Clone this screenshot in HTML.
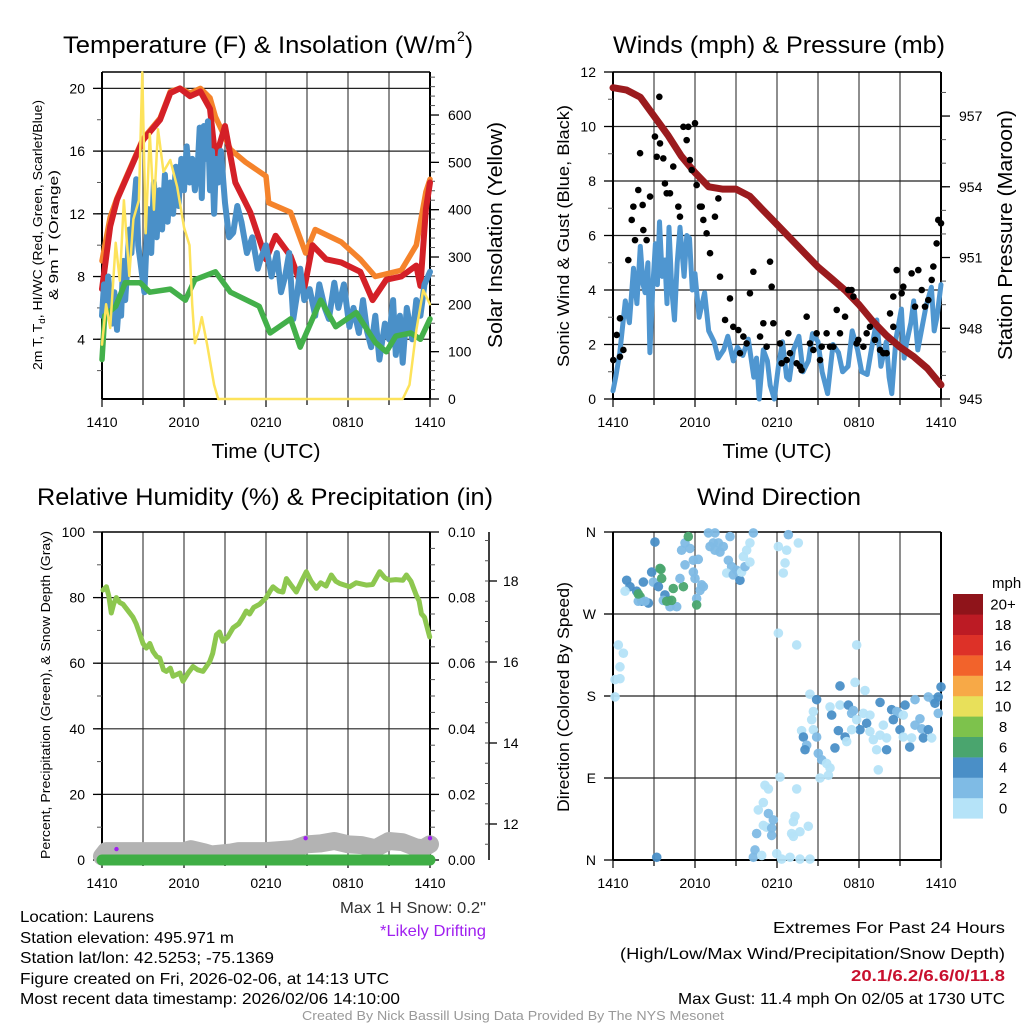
<!DOCTYPE html>
<html><head><meta charset="utf-8"><title>Mesonet Station Meteogram</title>
<style>
html,body{margin:0;padding:0;background:#fff;}
svg{display:block;font-family:"Liberation Sans",Arial,sans-serif;}
</style></head>
<body>
<svg id="fig" width="1024" height="1024" viewBox="0 0 1024 1024" xmlns="http://www.w3.org/2000/svg">
<rect x="0" y="0" width="1024" height="1024" fill="#fff"/>
<text x="63" y="53" font-size="24" textLength="393" lengthAdjust="spacingAndGlyphs">Temperature (F) &amp; Insolation (W/m</text>
<text x="457" y="41" font-size="14">2</text>
<text x="465" y="53" font-size="24">)</text>
<text x="613" y="53" font-size="24" textLength="332" lengthAdjust="spacingAndGlyphs">Winds (mph) &amp; Pressure (mb)</text>
<text x="37" y="505" font-size="24" textLength="456" lengthAdjust="spacingAndGlyphs">Relative Humidity (%) &amp; Precipitation (in)</text>
<text x="697" y="505" font-size="24" textLength="164" lengthAdjust="spacingAndGlyphs">Wind Direction</text>
<text x="266" y="458" font-size="20" text-anchor="middle" textLength="109" lengthAdjust="spacingAndGlyphs">Time (UTC)</text>
<text x="777" y="458" font-size="20" text-anchor="middle" textLength="109" lengthAdjust="spacingAndGlyphs">Time (UTC)</text>
<text x="42" y="235" font-size="13" text-anchor="middle" transform="rotate(-90 42 235)" textLength="270" lengthAdjust="spacingAndGlyphs">2m T, T<tspan font-size="9" dy="3">d</tspan><tspan dy="-3">, HI/WC (Red, Green, Scarlet/Blue)</tspan></text>
<text x="58" y="235" font-size="13" text-anchor="middle" transform="rotate(-90 58 235)" textLength="130" lengthAdjust="spacingAndGlyphs">&amp; 9m T (Orange)</text>
<text x="502" y="235" font-size="20" text-anchor="middle" transform="rotate(-90 502 235)" textLength="226" lengthAdjust="spacingAndGlyphs">Solar Insolation (Yellow)</text>
<text x="569" y="236" font-size="17" text-anchor="middle" transform="rotate(-90 569 236)" textLength="262" lengthAdjust="spacingAndGlyphs">Sonic Wind &amp; Gust (Blue, Black)</text>
<text x="1012" y="235" font-size="20" text-anchor="middle" transform="rotate(-90 1012 235)" textLength="250" lengthAdjust="spacingAndGlyphs">Station Pressure (Maroon)</text>
<text x="50" y="695" font-size="13" text-anchor="middle" transform="rotate(-90 50 695)" textLength="328" lengthAdjust="spacingAndGlyphs">Percent, Precipitation (Green), &amp; Snow Depth (Gray)</text>
<text x="569" y="697" font-size="17" text-anchor="middle" transform="rotate(-90 569 697)" textLength="230" lengthAdjust="spacingAndGlyphs">Direction (Colored By Speed)</text>
<g font-size="16">
<text x="20" y="922" textLength="134" lengthAdjust="spacingAndGlyphs">Location: Laurens</text>
<text x="20" y="943" textLength="214" lengthAdjust="spacingAndGlyphs">Station elevation: 495.971 m</text>
<text x="20" y="963" textLength="254" lengthAdjust="spacingAndGlyphs">Station lat/lon: 42.5253; -75.1369</text>
<text x="20" y="984" textLength="369" lengthAdjust="spacingAndGlyphs">Figure created on Fri, 2026-02-06, at 14:13 UTC</text>
<text x="20" y="1004" textLength="380" lengthAdjust="spacingAndGlyphs">Most recent data timestamp: 2026/02/06 14:10:00</text>
</g>
<text x="486" y="913" font-size="16" fill="#333" text-anchor="end" textLength="146" lengthAdjust="spacingAndGlyphs">Max 1 H Snow: 0.2"</text>
<text x="486" y="936" font-size="16" fill="#a020f0" text-anchor="end" textLength="106" lengthAdjust="spacingAndGlyphs">*Likely Drifting</text>
<text x="1005" y="933" font-size="16" text-anchor="end" textLength="232" lengthAdjust="spacingAndGlyphs">Extremes For Past 24 Hours</text>
<text x="1005" y="959" font-size="16" text-anchor="end" textLength="385" lengthAdjust="spacingAndGlyphs">(High/Low/Max Wind/Precipitation/Snow Depth)</text>
<text x="1005" y="981" font-size="16" font-weight="bold" fill="#c8102e" text-anchor="end" textLength="154" lengthAdjust="spacingAndGlyphs">20.1/6.2/6.6/0/11.8</text>
<text x="1005" y="1004" font-size="16" text-anchor="end" textLength="327" lengthAdjust="spacingAndGlyphs">Max Gust: 11.4 mph On 02/05 at 1730 UTC</text>
<text x="513" y="1020" font-size="13" fill="#999" text-anchor="middle" textLength="422" lengthAdjust="spacingAndGlyphs">Created By Nick Bassill Using Data Provided By The NYS Mesonet</text>
<text x="992" y="588" font-size="15">mph</text>
</svg>
<script>
// ---------- DATA ----------
const timeLabels = ["1410","2010","0210","0810","1410"];
const tempHours = [0,0.6,1.1,2.05,3.0,4.25,5,5.7,6.45,7.2,7.9,8.3,9.0,9.75,10.85,12,12.7,13.8,14.75,15.4,16.4,17.5,18.9,19.8,20.8,21.9,23,23.3,23.7,24];
const tempRed = [7.2,11.2,12.9,14.8,16.7,18.0,19.7,20.0,19.5,19.8,18.7,15.5,17.6,14.0,12.1,9.1,10.6,9.3,7.0,10.0,9.1,8.9,8.3,6.5,7.8,8.0,8.7,7.4,12.3,14.0];
const orangeHours = [0,0.6,1.1,2.05,3.0,4.25,5,5.7,6.45,7.2,7.9,8.3,9.4,10.5,12,12.2,13.8,14.9,15.6,17.5,18.9,20,21.9,23,23.7,24];
const temp9m = [9.0,11.8,13.0,14.9,16.8,18.1,19.8,20.0,19.7,20.0,19.4,18.2,16.1,15.3,14.4,12.7,12.1,9.5,11.0,10.2,9.1,8.0,8.4,10.0,13.4,14.2];
const wcHours = [0,0.15,0.3,0.45,0.6,0.75,0.9,1.1,1.25,1.4,1.55,1.7,1.85,2.0,2.15,2.3,2.5,2.65,2.8,2.95,3.1,3.25,3.4,3.6,3.8,4.0,4.2,4.4,4.6,4.8,5.0,5.2,5.4,5.6,5.8,6.0,6.2,6.4,6.6,6.8,7.0,7.15,7.3,7.45,7.6,7.75,7.9,8.05,8.2,8.35,8.5,8.7,9.0,9.3,9.6,9.9,10.2,10.6,11.0,11.4,11.6,12.0,12.4,12.8,13.1,13.4,13.7,14.0,14.3,14.5,14.8,15.2,15.6,15.9,16.3,16.6,17.0,17.3,17.7,18.1,18.4,18.8,19.1,19.4,19.7,20.0,20.3,20.7,21.0,21.3,21.5,21.8,22.0,22.3,22.7,23.0,23.3,23.6,24];
const windChill = [5.5,7.5,6.0,8.0,6.5,5.0,7.0,4.6,6.5,5.5,9.0,6.5,8.6,11.0,9.5,12.0,14.2,10.0,9.0,8.0,7.0,10.0,12.3,9.5,14.0,10.5,13.5,11.0,14.5,11.5,14.0,12.0,15.0,12.5,15.5,13.5,16.3,14.0,15.5,13.5,15.0,17.5,13.0,17.6,15.5,17.9,13.5,16.0,12.0,15.5,14.0,16.0,12.7,10.5,10.8,12.5,11.5,9.5,10.5,8.5,9.1,10.0,8.0,9.5,7.0,8.0,9.5,5.3,7.0,8.5,6.5,7.2,5.5,7.5,6.0,5.3,7.6,6.0,7.5,4.8,6.0,4.4,6.5,4.5,3.5,5.5,2.7,5.0,4.0,6.5,3.0,5.5,2.5,6.0,4.0,6.5,5.5,7.5,8.3];
const dewHours = [0,0.2,1.0,1.7,2.8,3.5,5.0,6.1,6.8,8.3,9.4,11.5,12.3,13.8,14.5,16.0,17.1,18.6,20.0,20.8,21.5,22.6,23.3,24];
const dewPoint = [2.7,5.5,6.1,7.6,7.6,7.0,7.2,6.5,7.8,8.3,7.0,6.1,4.4,5.3,3.5,6.5,4.8,5.7,3.8,3.2,4.2,4.4,4.0,5.3];
const solarHours = [0,0.3,0.6,1,1.3,1.6,2,2.3,2.7,2.95,3.2,3.5,3.8,4.1,4.5,5,5.5,6,6.4,6.6,6.8,7.1,7.3,7.7,8.2,8.5,22,22.5,23,23.5,24];
const solar = [115,200,150,330,250,420,260,380,420,690,350,560,400,570,480,505,448,363,325,200,118,145,173,114,30,0,0,30,145,230,200];
const tempTicks = [4,8,12,16,20];
const solarTicks = [0,100,200,300,400,500,600];
const windHours = [0,0.2,0.5,0.9,1.2,1.5,1.75,2.0,2.2,2.35,2.55,2.7,2.9,3.1,3.25,3.4,3.6,3.8,3.95,4.1,4.3,4.5,4.7,4.9,5.2,5.4,5.6,5.8,6.0,6.3,6.7,7.0,7.4,7.7,8.1,8.4,8.8,9.1,9.5,9.9,10.3,10.5,10.7,11.0,11.3,11.5,11.8,12.1,12.4,12.7,12.9,13.2,13.6,13.9,14.3,14.6,15.0,15.3,15.7,16.1,16.5,16.8,17.2,17.5,17.9,18.2,18.6,18.9,19.3,19.6,20.0,20.2,20.4,20.7,21.1,21.3,21.5,21.8,22.0,22.3,22.6,22.9,23.3,23.5,23.7,24];
const windSpeed = [0.3,0.8,1.7,3.6,2.8,4.8,3.5,5.6,4.2,3.9,5.0,1.7,4.0,5.7,4.2,6.5,4.5,5.1,3.5,6.3,4.0,2.9,5.0,6.3,4.5,6.0,5.9,4.0,4.6,3.0,3.9,2.5,2.1,1.5,1.8,2.3,1.4,1.9,1.6,2.2,0.8,1.5,0.0,1.8,1.4,0.5,0.0,1.2,2.1,0.8,0.7,1.8,2.3,1.0,1.4,2.4,2.1,1.0,0.2,2.0,1.7,1.0,1.2,2.5,1.8,1.0,0.9,1.8,2.9,1.2,2.1,0.8,0.2,2.2,3.3,1.5,2.1,2.8,3.6,1.8,2.6,3.4,4.1,2.5,3.0,4.2];
const presHours = [0,1,2,3,4,5,6,7,8,9,10,11,12,13,14,15,16,17,18,19,20,21,22,23,24];
const pressure = [958.2,958.1,957.8,957.0,956.2,955.3,954.6,954.0,953.9,953.9,953.6,953.0,952.4,951.8,951.2,950.6,950.1,949.6,949.0,948.3,947.7,947.2,946.8,946.3,945.6];
const gustHours = [0.02,0.27,0.51,1.12,1.37,1.49,1.85,1.98,2.17,2.46,2.71,3.07,3.2,3.39,3.44,3.68,3.8,3.93,4.17,4.41,4.78,4.9,5.15,5.39,5.51,5.63,5.76,6.0,6.12,6.37,6.49,6.61,6.85,7.1,7.46,7.71,7.83,8.2,8.56,8.8,9.17,9.54,10.02,10.27,10.76,11.0,11.49,11.61,11.73,12.22,12.34,12.83,12.95,13.44,13.8,14.17,14.66,14.9,15.27,15.63,16.12,16.37,16.61,16.98,17.22,17.46,17.59,17.95,18.32,18.56,18.8,19.17,19.54,19.78,20.27,20.51,20.76,21.12,21.24,21.85,22.1,22.34,22.59,22.83,23.07,23.32,23.44,23.68,23.8,24.0,9.29,9.78,11.24,12.71,13.68,14.41,15.15,15.88,17.83,20.02,20.51,1.61,2.22,0.51,0.76];
const gustSpeed = [1.43,2.35,2.96,5.10,6.57,7.06,7.67,9.02,7.12,5.83,7.43,9.63,8.89,11.09,9.38,8.83,7.91,7.55,7.55,8.53,7.06,6.69,9.99,9.5,9.99,8.77,8.4,10.12,7.85,7.06,7.06,6.57,6.08,5.35,6.69,7.36,4.49,2.9,3.69,2.65,2.53,2.29,3.88,4.67,2.29,2.78,5.04,4.12,2.78,2.04,1.31,2.41,1.68,1.31,1.06,3.02,1.8,2.41,1.92,2.41,1.92,3.27,2.41,3.02,4.0,4.0,3.76,2.17,1.92,2.41,2.65,2.17,1.8,1.68,3.14,3.76,4.73,3.88,4.12,4.61,3.39,4.73,4.0,3.39,3.63,4.37,4.86,5.71,6.57,6.45,1.68,2.04,1.92,1.43,1.19,2.04,1.43,1.92,2.04,1.68,2.65,5.83,6.2,1.55,1.8];
const windTicks = [0,2,4,6,8,10,12];
const presTicks = [945,948,951,954,957];
const rhHours = [0.07,0.32,0.5,0.68,0.85,1.05,1.3,1.54,1.9,2.27,2.5,2.76,3.0,3.24,3.5,3.73,4.0,4.22,4.5,4.71,5.0,5.2,5.44,5.7,5.93,6.3,6.66,7.0,7.39,7.88,8.1,8.37,8.6,8.85,9.2,9.59,10.0,10.3,10.56,10.8,11.1,11.54,12.02,12.3,12.51,12.9,13.24,13.49,13.8,14.22,14.6,14.95,15.3,15.68,16.0,16.4,16.78,17.1,17.39,18.12,18.6,19.34,19.8,20.32,20.7,21.05,21.5,22.02,22.27,22.6,23.0,23.2,23.37,23.6,23.98];
const rh = [82.3,83.3,80.5,75.3,78,80,78.5,78,76,74,72,69,66,64.6,66,63.6,62,61.6,58,57.5,58.5,56,56.5,57,54.5,57,59,58,57.5,60.5,63,68.7,69.5,66.7,68,70.8,72,74,75.9,75,77,78,80,82,83.3,82,81.7,85.8,84,81.7,85,87.9,85,82.8,84.5,83.5,86.9,85,84.3,83.3,84.5,83.8,84,87.9,86,85.3,85.5,85.3,86.9,85,80.7,79,75.1,74,68];
const precipHours = [0,24];
const precip = [0,0];
const snowHours = [0,0.3,3,6,6.5,7.5,8,9.5,10,12,14,15,16,17,18,19,20,21,22,23,23.5,24];
const snowDepth = [11.2,11.33,11.33,11.33,11.38,11.3,11.25,11.3,11.33,11.33,11.38,11.5,11.52,11.58,11.5,11.48,11.4,11.58,11.55,11.42,11.4,11.5];
const driftHours = [1.06,14.9,24];
const driftDepth = [11.38,11.65,11.65];
const rhTicks = [0,20,40,60,80,100];
const precipTicks = ["0.00","0.02","0.04","0.06","0.08","0.10"];
const snowTicks = [12,14,16,18];
const dirHours = [3.07,1.0,1.24,1.73,2.1,2.59,0.88,2.22,2.83,2.95,3.44,3.56,3.32,3.8,4.05,3.68,4.17,4.66,4.41,5.15,4.9,5.02,5.27,5.51,5.63,5.27,5.88,6.24,5.88,6.0,6.49,6.61,6.37,6.12,6.12,1.98,1.85,2.34,1.85,3.51,3.93,4.29,6.98,7.1,7.34,7.71,7.46,7.83,8.07,7.46,8.56,8.44,8.68,8.32,8.8,9.05,9.29,9.41,9.66,9.54,9.78,10.02,10.27,10.02,12.1,12.71,12.83,13.56,12.59,12.46,12.1,13.44,17.83,0.39,0.76,0.51,0.15,0.51,0.15,16.61,17.71,18.44,14.41,14.9,14.66,14.54,13.8,14.66,13.93,14.17,14.05,14.9,15.02,15.27,15.63,15.88,15.76,15.15,15.88,16.0,16.24,16.49,16.98,17.1,16.61,17.22,17.46,17.59,17.83,18.07,17.46,18.32,18.8,18.56,18.8,19.05,19.54,19.78,20.02,19.29,20.02,19.41,19.54,20.39,20.76,20.88,20.51,21.0,21.24,21.71,21.85,21.37,21.24,22.1,22.1,22.46,22.59,23.07,22.71,23.32,23.07,23.44,23.56,23.8,24.0,23.8,12.22,11.12,11.37,13.44,11.0,10.63,11.37,11.73,11.0,11.24,11.61,10.51,11.61,13.2,13.07,13.32,13.68,14.29,13.2,10.39,10.27,10.88,11.98,12.34,12.95,13.68,14.41,3.2];
const dirDegrees = [349,307,300,295,284,282,295,305,316,305,320,309,300,291,285,285,278,278,298,300,309,340,348,355,342,324,329,330,316,309,302,300,296,287,280,289,284,284,292,319,284,285,359,344,348,348,340,338,344,359,355,329,322,315,313,318,307,316,322,333,340,348,359,327,344,340,357,348,326,315,249,236,236,236,227,212,198,199,179,191,195,186,182,176,163,154,142,143,135,126,121,135,117,110,106,101,93,90,168,159,123,142,135,130,170,170,161,164,154,143,143,161,159,150,141,132,137,148,134,121,121,99,173,165,163,161,154,143,135,124,134,170,159,176,148,155,144,143,134,134,179,176,172,179,190,161,91,82,78,78,63,55,51,44,38,36,35,29,27,42,29,48,31,37,26,11,3,5,7,1,3,1,1,3];
const dirSpeed = [5,5,5,5,5,5,1,5,5,3,6,6,5,5,5,3,3,3,7,7,3,3,3,7,3,3,3,3,3,3,3,3,3,3,7,7,3,3,7,7,7,7,3,3,3,3,3,3,3,3,3,3,3,1,3,3,5,1,3,1,1,1,3,1,1,1,3,1,1,1,1,1,1,1,1,1,1,1,1,5,1,1,1,5,1,1,1,1,5,3,5,3,3,3,1,1,1,1,1,5,5,5,5,1,1,5,3,3,1,5,1,1,1,5,1,1,1,1,1,1,5,1,5,5,3,3,5,5,1,5,1,5,1,3,3,3,3,5,5,1,3,3,5,5,5,3,1,1,1,1,1,1,3,3,1,1,3,3,3,1,1,1,1,1,1,3,3,1,1,1,1,1,1,5];
const dirTickLabels = ["N","E","S","W","N"];
const speedBins = ["0","2","4","6","8","10","12","14","16","18","20+"];
const speedColors = ["#b5e3f8","#7fbbe5","#4a8fc7","#4aa56e","#7dc24c","#e8e05a","#f7a947","#f2632b","#dd3128","#bc1b24","#8f141a"];

// ---------- SCALES ----------
const P1 = {x0:102,x1:430,y0:72,y1:399};
const P2 = {x0:613,x1:941,y0:72,y1:399};
const P3 = {x0:102,x1:430,y0:532,y1:860};
const P4 = {x0:613,x1:941,y0:532,y1:860};
const xH = (p,h)=>p.x0+(p.x1-p.x0)*h/24;
const yTemp = v=>399-(v-0.19)*15.68;
const ySolar = v=>399-v*0.4733;
const yWind = v=>399-v*27.25;
const yPres = p=>399-(p-945)*23.58;
const yRH = v=>860-v*3.28;
const yPrecip = v=>860-v*3280;
const ySnow = s=>824-(s-12)*40.5;
const yDir = d=>860-d*82/90;

const NS="http://www.w3.org/2000/svg";
const svg=document.getElementById('fig');
function mk(tag,attrs,parent){const e=document.createElementNS(NS,tag);for(const k in attrs)e.setAttribute(k,attrs[k]);(parent||svg).appendChild(e);return e;}
function pathD(p,hs,vs,yf){let d="";for(let i=0;i<hs.length;i++){d+=(i?"L":"M")+xH(p,hs[i]).toFixed(1)+","+yf(vs[i]).toFixed(1);}return d;}

function frame(p,name,hGridVals,yf){
  const g=mk('g',{});
  
  
  for(let h=3;h<24;h+=3){
    const l=mk('line',{x1:xH(p,h),x2:xH(p,h),y1:p.y0,y2:p.y1,stroke:'#444','stroke-width':1.2},g);
    
    
  }
  hGridVals.forEach(v=>{
    const l=mk('line',{x1:p.x0,x2:p.x1,y1:yf(v),y2:yf(v),stroke:'#222','stroke-width':1.2},g);
    
    
  });
  const r=mk('line',{x1:p.x0,x2:p.x1,y1:p.y0,y2:p.y0,stroke:'#000','stroke-width':1.5},g);
  
  
  [p.x0,p.x1].forEach(x=>{
    const b=mk('line',{x1:x,x2:x,y1:p.y0,y2:p.y1,stroke:'#000','stroke-width':2},g);
    
    
  });
  const bb=mk('line',{x1:p.x0,x2:p.x1,y1:p.y1,y2:p.y1,stroke:'#000','stroke-width':2},g);
  
  
  for(let h=0;h<=24;h+=3){
    const t=mk('line',{x1:xH(p,h),x2:xH(p,h),y1:p.y1,y2:p.y1+(h%6===0?8:6),stroke:'#000','stroke-width':1.2},g);
    
    
  }
  timeLabels.forEach((s,i)=>{
    const t=mk('text',{x:xH(p,i*6),y:p.y1+28,'font-size':14,'text-anchor':'middle'},g);
    t.textContent=s;
    
    
  });
}
function yTicks(p,vals,labels,yf,side,name,minorStep,minorRange){
  const g=mk('g',{});
  
  
  const x=side==='left'?p.x0:p.x1;
  const dir=side==='left'?-1:1;
  if(minorStep){for(let v=minorRange[0];v<=minorRange[1]+1e-9;v+=minorStep){
    const m=mk('line',{x1:x,x2:x+dir*5,y1:yf(v),y2:yf(v),stroke:'#555','stroke-width':1},g);
    
    
  }}
  vals.forEach((v,i)=>{
    const t=mk('line',{x1:x,x2:x+dir*9,y1:yf(v),y2:yf(v),stroke:'#000','stroke-width':1.3},g);
    
    
    const tx=mk('text',{x:side==='left'?x-17:x+18,y:yf(v)+5,'font-size':14,'text-anchor':side==='left'?'end':'start'},g);
    tx.textContent=labels[i];
    
    
  });
}
function line(p,hs,vs,yf,color,w,name){
  const e=mk('path',{d:pathD(p,hs,vs,yf),fill:'none',stroke:color,'stroke-width':w,'stroke-linejoin':'round','stroke-linecap':'round'});
  
  
  return e;
}

// ---------- PANEL 1 ----------
frame(P1,'temperature',tempTicks,yTemp);
yTicks(P1,tempTicks,tempTicks.map(String),yTemp,'left','temperature-y-axis',2,[2,20]);
yTicks(P1,solarTicks,solarTicks.map(String),ySolar,'right','solar-y-axis',20,[0,680]);
line(P1,orangeHours,temp9m,yTemp,'#f5832b',5.5,'temp-9m-line');
line(P1,tempHours,tempRed,yTemp,'#d42027',6,'temp-2m-line');
line(P1,wcHours,windChill,yTemp,'#4a90c8',6,'wind-chill-line');
line(P1,dewHours,dewPoint,yTemp,'#43b04a',5.5,'dew-point-line');
line(P1,solarHours,solar,ySolar,'#fde35b',2.5,'solar-line');

// ---------- PANEL 2 ----------
frame(P2,'winds',windTicks,yWind);
yTicks(P2,windTicks,windTicks.map(String),yWind,'left','wind-y-axis',1,[0,12]);
yTicks(P2,presTicks,presTicks.map(String),yPres,'right','pressure-y-axis',1,[945,958]);
line(P2,windHours,windSpeed,yWind,'#4f96d0',5,'wind-speed-line');
line(P2,presHours,pressure,yPres,'#9b1b1e',7,'pressure-line');
const gg=mk('g',{});


gustHours.forEach((h,i)=>{
  const c=mk('circle',{cx:xH(P2,h),cy:yWind(gustSpeed[i]),r:3.3,fill:'#000'},gg);
  
  
});

// ---------- PANEL 3 ----------
frame(P3,'humidity',[20,40,60,80],yRH);
yTicks(P3,rhTicks,rhTicks.map(String),yRH,'left','humidity-y-axis',10,[0,100]);
yTicks(P3,precipTicks.map(Number),precipTicks,yPrecip,'right','precip-y-axis',0.005,[0,0.1]);
const sa=mk('line',{x1:489,x2:489,y1:532,y2:860,stroke:'#000','stroke-width':1.5});


for(let s=11.5;s<=19;s+=0.5){
  const m=mk('line',{x1:489,x2:485,y1:ySnow(s),y2:ySnow(s),stroke:'#555','stroke-width':1});
  
  
}
snowTicks.forEach(s=>{
  const t=mk('line',{x1:489,x2:497,y1:ySnow(s),y2:ySnow(s),stroke:'#000','stroke-width':1.3});
  
  
  const tx=mk('text',{x:503,y:ySnow(s)+5,'font-size':14});
  tx.textContent=String(s);
  
  
});
line(P3,snowHours,snowDepth,ySnow,'#b3b3b3',18,'snow-depth-line');
line(P3,precipHours,precip,yPrecip,'#3fae45',11,'precip-line');
line(P3,rhHours,rh,yRH,'#8dc74f',5,'humidity-line');
driftHours.forEach((h,i)=>{
  const c=mk('circle',{cx:xH(P3,h),cy:ySnow(driftDepth[i]),r:2.2,fill:'#a020f0'});
  
  
});

// ---------- PANEL 4 ----------
frame(P4,'direction',[90,180,270],yDir);
const dg=mk('g',{});


dirTickLabels.forEach((s,i)=>{
  const t=mk('line',{x1:P4.x0,x2:P4.x0-9,y1:yDir(i*90),y2:yDir(i*90),stroke:'#000','stroke-width':1.3},dg);
  
  
  const tx=mk('text',{x:P4.x0-17,y:yDir(i*90)+5,'font-size':14,'text-anchor':'end'},dg);
  tx.textContent=s;
  
  
});
const pg=mk('g',{});


dirHours.forEach((h,i)=>{
  const bin=Math.min(10,Math.floor(dirSpeed[i]/2));
  const c=mk('circle',{cx:xH(P4,h),cy:yDir(dirDegrees[i]),r:4.8,fill:speedColors[bin],'fill-opacity':0.95},pg);
  
  
});
const cb=mk('g',{});


speedBins.forEach((s,i)=>{
  const top=594+(10-i)*20.4;
  const r=mk('rect',{x:953,y:top,width:30,height:20.6,fill:speedColors[i]},cb);
  
  
  const t=mk('text',{x:1003,y:top+15.5,'font-size':15,'text-anchor':'middle'},cb);
  t.textContent=s;
  
  
});
</script>
</body></html>
